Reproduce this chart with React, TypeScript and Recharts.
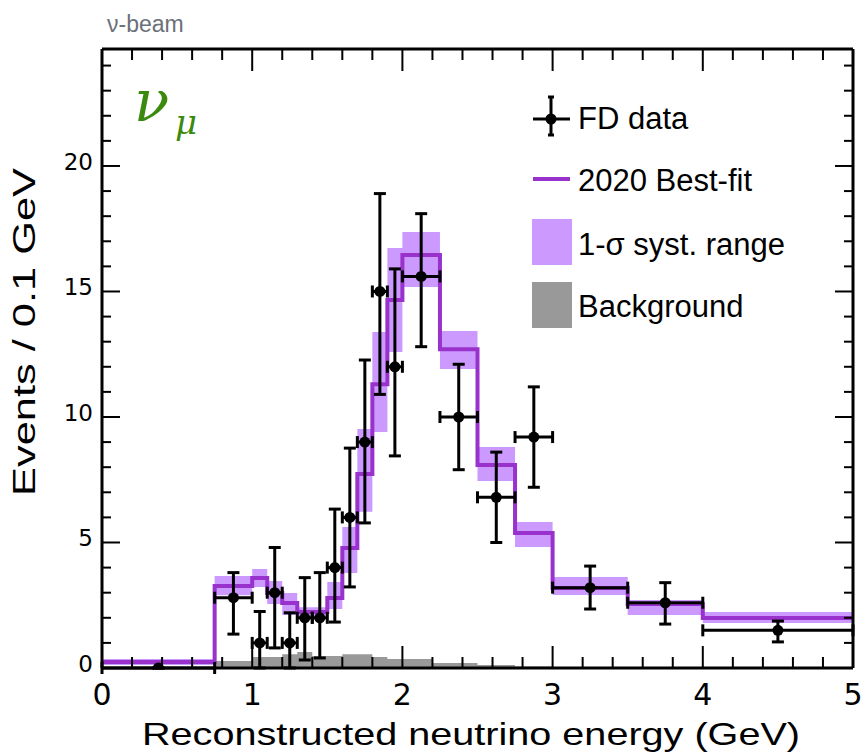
import React from "react";
import {
  ComposedChart,
  Line,
  Area,
  Scatter,
  ErrorBar,
  XAxis,
  YAxis,
  ReferenceLine,
} from "recharts";

// best-fit prediction, variable bins (GeV), events / 0.1 GeV
const fitEdges = [0, 0.75, 1.0, 1.1, 1.2, 1.3, 1.5, 1.6, 1.7, 1.8, 1.9, 2.0, 2.25, 2.5, 2.75, 3.0, 3.5, 4.0, 5.0];
const fitValues = [0.24, 3.27, 3.59, 2.99, 2.59, 2.23, 2.79, 4.78, 7.73, 11.3, 14.66, 16.45, 12.7, 8.09, 5.38, 3.19, 2.55, 1.99];
const systLow = [0.12, 2.9, 3.23, 2.55, 2.11, 2.05, 2.35, 3.78, 6.22, 9.4, 12.59, 15.18, 11.91, 7.45, 4.82, 2.91, 2.11, 1.79];
const systHigh = [0.36, 3.67, 3.94, 3.47, 2.99, 2.42, 3.43, 5.62, 9.52, 13.39, 16.73, 17.37, 13.43, 8.8, 5.82, 3.63, 2.71, 2.23];

// background
const bkgEdges = [0.75, 1.0, 1.2, 1.3, 1.4, 1.6, 1.8, 1.9, 2.2, 2.5, 2.75, 3.0];
const bkgValues = [0.28, 0.44, 0.55, 0.64, 0.48, 0.55, 0.44, 0.36, 0.2, 0.12, 0.06, 0];

// FD data
const dataE = [0.375, 0.875, 1.05, 1.15, 1.25, 1.35, 1.45, 1.55, 1.65, 1.75, 1.85, 1.95, 2.125, 2.375, 2.625, 2.875, 3.25, 3.75, 4.5];
const dataEvents = [0, 2.8, 1.0, 3.0, 1.0, 2.0, 2.0, 4.0, 6.0, 9.0, 15.0, 12.0, 15.6, 10.0, 6.8, 9.2, 3.2, 2.6, 1.5];
const dataXErr = [0.375, 0.125, 0.05, 0.05, 0.05, 0.05, 0.05, 0.05, 0.05, 0.05, 0.05, 0.05, 0.125, 0.125, 0.125, 0.125, 0.25, 0.25, 0.5];
const dataErrLow = [0, 1.45, 1.0, 2.2, 1.0, 1.68, 1.6, 2.17, 2.77, 3.22, 4.1, 3.55, 2.8, 2.1, 1.8, 2.0, 0.85, 0.85, 0.46];
const dataErrHigh = [0, 1.0, 1.25, 1.8, 1.2, 1.6, 1.8, 2.33, 2.76, 3.27, 3.9, 3.9, 2.5, 2.1, 1.8, 2.0, 0.86, 0.8, 0.37];

const xMinorTicks = [0.2, 0.4, 0.6, 0.8, 1.2, 1.4, 1.6, 1.8, 2.2, 2.4, 2.6, 2.8, 3.2, 3.4, 3.6, 3.8, 4.2, 4.4, 4.6, 4.8];
const xMajorTicks = [0, 1, 2, 3, 4, 5];
const yMinorTicks = [1, 2, 3, 4, 6, 7, 8, 9, 11, 12, 13, 14, 16, 17, 18, 19, 21, 22, 23, 24];
const yMajorTicks = [0, 5, 10, 15, 20];
const xMax = 5;
const yMax = 24.66;

const PURPLE = "#9932CC";
const BAND = "#CC99FF";
const GREY = "#999999";

// chart box
const W = 864;
const H = 755;
const margin = { top: 49, right: 11, bottom: 47, left: 42 };
const xAxisH = 40;
const yAxisW = 60;
const plotL = margin.left + yAxisW;
const plotR = W - margin.right;
const plotT = margin.top;
const plotB = H - margin.bottom - xAxisH;
const px = (t: number) => plotL + (t / xMax) * (plotR - plotL);
const py = (v: number) => plotB - (v / yMax) * (plotB - plotT);

const fitData = fitEdges.map((e, i) => {
  const k = Math.min(i, fitValues.length - 1);
  return { e, fit: fitValues[k], band: [systLow[k], systHigh[k]] };
});
const bkgData = bkgEdges.map((e, i) => ({ e, bkg: bkgValues[i] }));
const pointData = dataE.map((e, i) => ({
  e,
  n: dataEvents[i],
  xerr: [dataXErr[i], dataXErr[i]],
  yerr: [dataErrLow[i], dataErrHigh[i]],
}));

const tickFont = "'DejaVu Sans', sans-serif";
const textFont = "'Liberation Sans', Arial, sans-serif";
const frame = { stroke: "#000", strokeWidth: 3 };

const BottomLabel = (p: any) => (
  <text x={p.x} y={p.y + 37} textAnchor="middle" fontFamily={tickFont} fontSize={30} fill="#000">
    {p.payload.value}
  </text>
);

const LeftLabel = (p: any) => (
  <text x={p.x - 9} y={p.y + 4} textAnchor="end" fontFamily={tickFont} fontSize={23} fill="#000">
    {p.payload.value}
  </text>
);

const Dot = (p: any) => <circle cx={p.cx} cy={p.cy} r={5.5} fill="#000" />;

// ROOT-style inward ticks on all four sides of the frame
function FrameTicks() {
  const xs = [
    ...xMinorTicks.map((t) => ({ t, len: 11 })),
    ...xMajorTicks.map((t) => ({ t, len: 22 })),
  ];
  const ys = [
    ...yMinorTicks.map((t) => ({ t, len: 9 })),
    ...yMajorTicks.map((t) => ({ t, len: 18 })),
  ];
  return (
    <g stroke="#000" strokeWidth={2}>
      {xs.map((s) => (
        <line key={`b${s.t}`} x1={px(s.t)} x2={px(s.t)} y1={plotB} y2={plotB - s.len} />
      ))}
      {xs.map((s) => (
        <line key={`t${s.t}`} x1={px(s.t)} x2={px(s.t)} y1={plotT} y2={plotT + s.len} />
      ))}
      {ys.map((s) => (
        <line key={`l${s.t}`} x1={plotL} x2={plotL + s.len} y1={py(s.t)} y2={py(s.t)} />
      ))}
      {ys.map((s) => (
        <line key={`r${s.t}`} x1={plotR} x2={plotR - s.len} y1={py(s.t)} y2={py(s.t)} />
      ))}
    </g>
  );
}

export default function App() {
  return (
    <div style={{ position: "absolute", left: 0, top: 0, width: W, height: H, background: "#fff" }}>
      <ComposedChart width={W} height={H} margin={margin}>
        <XAxis
          dataKey="e"
          type="number"
          domain={[0, xMax]}
          ticks={xMajorTicks}
          interval={0}
          height={xAxisH}
          tickSize={0}
          tickMargin={0}
          tickLine={false}
          tick={BottomLabel}
          axisLine={frame}
          allowDataOverflow
        />
        <YAxis
          type="number"
          domain={[0, yMax]}
          ticks={yMajorTicks}
          interval={0}
          width={yAxisW}
          tickSize={0}
          tickMargin={0}
          tickLine={false}
          tick={LeftLabel}
          axisLine={frame}
          allowDataOverflow
        />
        <Area
          data={bkgData}
          dataKey="bkg"
          type="stepAfter"
          fill={GREY}
          fillOpacity={1}
          stroke="none"
          isAnimationActive={false}
        />
        <Area
          data={fitData}
          dataKey="band"
          type="stepAfter"
          fill={BAND}
          fillOpacity={1}
          stroke="none"
          isAnimationActive={false}
        />
        <Line
          data={fitData}
          dataKey="fit"
          type="stepAfter"
          stroke={PURPLE}
          strokeWidth={4}
          dot={false}
          isAnimationActive={false}
        />
        <ReferenceLine y={yMax} stroke="#000" strokeWidth={3} />
        <ReferenceLine x={xMax} stroke="#000" strokeWidth={3} />

        <Scatter data={pointData} dataKey="n" shape={Dot} isAnimationActive={false}>
          <ErrorBar dataKey="yerr" direction="y" width={6} stroke="#000" strokeWidth={3} />
          <ErrorBar dataKey="xerr" direction="x" width={6} stroke="#000" strokeWidth={3} />
        </Scatter>
      </ComposedChart>

      <svg
        width={W}
        height={H}
        style={{ position: "absolute", left: 0, top: 0, pointerEvents: "none" }}
      >
        <FrameTicks />

        <text x={107} y={32} fontFamily={textFont} fontSize={23} fill="#6b7078">
          ν-beam
        </text>
        <text x={134} y={121} fontFamily="'DejaVu Serif', serif" fontStyle="italic" fontSize={58} fill="#3a8a0e">
          ν
        </text>
        <text x={175} y={134} fontFamily="'DejaVu Serif', serif" fontStyle="italic" fontSize={34} fill="#3a8a0e">
          μ
        </text>

        {/* legend */}
        <line x1={533} x2={570} y1={119} y2={119} stroke="#000" strokeWidth={3} />
        <line x1={551} x2={551} y1={97} y2={135} stroke="#000" strokeWidth={3} />
        <line x1={548} x2={554} y1={97} y2={97} stroke="#000" strokeWidth={3} />
        <line x1={548} x2={554} y1={135} y2={135} stroke="#000" strokeWidth={3} />
        <circle cx={551} cy={119} r={5.5} fill="#000" />
        <text x={578} y={129} fontFamily={textFont} fontSize={31} fill="#000">FD data</text>

        <line x1={533} x2={570} y1={179} y2={179} stroke={PURPLE} strokeWidth={4} />
        <text x={578} y={191} fontFamily={textFont} fontSize={31} fill="#000">2020 Best-fit</text>

        <rect x={532} y={219} width={40} height={46} fill={BAND} />
        <text x={578} y={255} fontFamily={textFont} fontSize={31} fill="#000">1-σ syst. range</text>

        <rect x={532} y={282} width={40} height={46} fill={GREY} />
        <text x={578} y={317} fontFamily={textFont} fontSize={31} fill="#000">Background</text>

        {/* axis titles */}
        <text
          x={471}
          y={745}
          textAnchor="middle"
          fontFamily={textFont}
          fontSize={32}
          textLength={658}
          lengthAdjust="spacingAndGlyphs"
          fill="#000"
        >
          Reconstructed neutrino energy (GeV)
        </text>
        <text
          x={0}
          y={0}
          transform="translate(35 332) rotate(-90)"
          textAnchor="middle"
          fontFamily={textFont}
          fontSize={31}
          textLength={328}
          lengthAdjust="spacingAndGlyphs"
          fill="#000"
        >
          Events / 0.1 GeV
        </text>
      </svg>
    </div>
  );
}
